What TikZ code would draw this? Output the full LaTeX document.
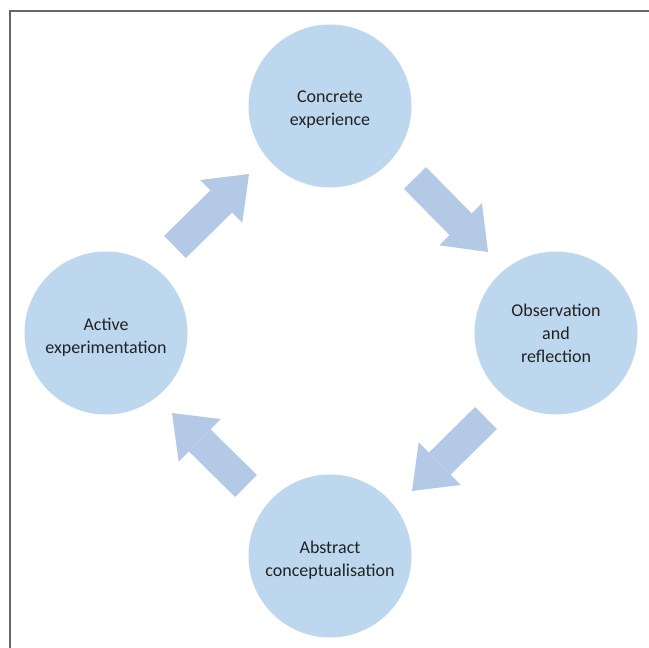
\documentclass[tikz,border=0pt]{standalone}
\usepackage{fontspec}
\setmainfont{Carlito}
\usepackage{tikz}
\usetikzlibrary{positioning,calc,arrows.meta}
\definecolor{stagefill}{HTML}{BDD7EE}
\definecolor{arrfill}{HTML}{B4C9E6}
\definecolor{stagetext}{HTML}{222222}
\tikzset{stage/.style={circle, fill=stagefill, minimum size=163pt, inner sep=0pt}}
\tikzset{stagelabel/.style={align=center, text=stagetext, font=\fontsize{18}{23}\selectfont}}
\tikzset{blockarr/.style={draw=arrfill, line width=31pt, -{Triangle[length=39pt, width=60pt, line width=0pt 0]}, arrfill}}
\tikzset{frameline/.style={draw=black!60, line width=1.5pt}}

\begin{document}
\begin{tikzpicture}[x=1pt, y=-1pt]
        \useasboundingbox (0,0) rectangle (649,648);
        \draw[frameline] (649,11) -- (10,11) -- (10,648);
        % the four stages
        \node[stage, label={[stagelabel, yshift=-4pt]center:Concrete\\experience}] (CE) at (330,106) {};
        \node[stage, label={[stagelabel]center:Observation\\and\\reflection}] (OR) at (556,333) {};
        \node[stage, label={[stagelabel, yshift=-4pt]center:Abstract\\conceptualisation}] (AC) at (330,556) {};
        \node[stage, label={[stagelabel, yshift=-4pt]center:Active\\experimentation}] (AE) at (106,333) {};
        % arrow ends
        \coordinate (t1) at (175,247);   \coordinate (h1) at (249,174);
        \coordinate (t2) at (415,178);   \coordinate (h2) at (488,252);
        \coordinate (t3) at (486,418);   \coordinate (h3) at (412,491);
        \coordinate (t4) at (246,486);   \coordinate (h4) at (172,413);
        \draw[blockarr] (t1) -- (h1);
        \draw[blockarr] (t2) -- (h2);
        \draw[blockarr] (t3) -- (h3);
        \draw[blockarr] (t4) -- (h4);
    \end{tikzpicture}
\end{document}
